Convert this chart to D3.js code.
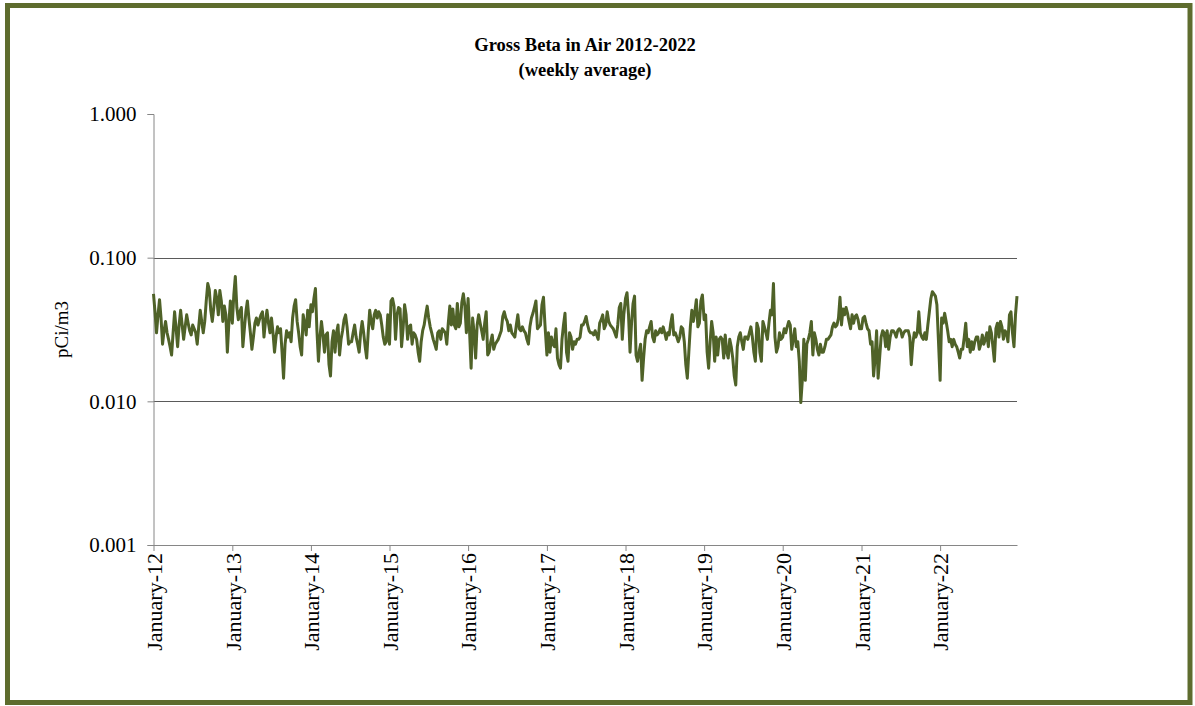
<!DOCTYPE html>
<html>
<head>
<meta charset="utf-8">
<script src="https://cdn.jsdelivr.net/npm/d3@7"></script>
<style>
  html, body { margin: 0; padding: 0; background: #fff; }
  svg { display: block; }
  text { font-family: "Liberation Serif", "Times New Roman", serif; fill: #000; }
</style>
</head>
<body>
<svg id="chart" width="1195" height="706"></svg>
<script>
// Weekly gross beta in air, pCi/m3, one array per year (52 weekly averages each)
const years = [2012, 2013, 2014, 2015, 2016, 2017, 2018, 2019, 2020, 2021, 2022];

const beta2012 = [0.056,0.042,0.030,0.040,0.051,0.038,0.025,0.031,0.036,0.030,0.027,0.024,0.021,0.030,0.042,0.032,0.024,0.034,0.043,0.034,0.027,0.033,0.040,0.035,0.031,0.029,0.034,0.032,0.030,0.025,0.033,0.043,0.036,0.030,0.036,0.050,0.066,0.060,0.043,0.036,0.045,0.059,0.052,0.040,0.059,0.050,0.036,0.046,0.040,0.022,0.035,0.050];
const beta2013 = [0.035,0.055,0.074,0.045,0.037,0.042,0.045,0.024,0.032,0.042,0.050,0.038,0.030,0.023,0.028,0.035,0.038,0.034,0.037,0.040,0.042,0.028,0.036,0.043,0.035,0.030,0.038,0.030,0.022,0.028,0.033,0.030,0.032,0.022,0.0145,0.025,0.031,0.028,0.030,0.026,0.038,0.046,0.051,0.036,0.030,0.024,0.021,0.040,0.035,0.029,0.043,0.033];
const beta2014 = [0.047,0.042,0.052,0.061,0.031,0.019,0.028,0.036,0.029,0.022,0.029,0.030,0.018,0.015,0.026,0.031,0.022,0.030,0.034,0.021,0.027,0.031,0.037,0.040,0.033,0.025,0.026,0.026,0.030,0.034,0.028,0.025,0.022,0.030,0.036,0.030,0.024,0.020,0.030,0.043,0.036,0.032,0.040,0.043,0.038,0.042,0.040,0.034,0.028,0.025,0.026,0.040];
const beta2015 = [0.025,0.050,0.052,0.046,0.027,0.040,0.045,0.044,0.024,0.032,0.047,0.040,0.027,0.033,0.034,0.025,0.030,0.029,0.027,0.022,0.019,0.026,0.031,0.034,0.040,0.046,0.038,0.033,0.030,0.027,0.025,0.023,0.030,0.031,0.027,0.032,0.031,0.030,0.025,0.035,0.046,0.034,0.044,0.034,0.032,0.048,0.033,0.035,0.049,0.056,0.046,0.030];
const beta2016 = [0.052,0.030,0.017,0.038,0.030,0.020,0.034,0.040,0.035,0.031,0.027,0.035,0.042,0.021,0.022,0.026,0.029,0.023,0.025,0.026,0.027,0.029,0.031,0.039,0.042,0.038,0.036,0.031,0.034,0.030,0.029,0.028,0.034,0.040,0.032,0.031,0.033,0.031,0.030,0.027,0.025,0.033,0.038,0.041,0.045,0.050,0.032,0.033,0.034,0.047,0.053,0.034];
const beta2017 = [0.021,0.030,0.022,0.028,0.025,0.024,0.032,0.020,0.018,0.017,0.027,0.034,0.041,0.022,0.019,0.030,0.028,0.023,0.026,0.025,0.027,0.027,0.028,0.034,0.034,0.036,0.039,0.034,0.031,0.030,0.030,0.029,0.031,0.029,0.027,0.035,0.037,0.040,0.032,0.034,0.042,0.036,0.034,0.033,0.032,0.030,0.028,0.034,0.045,0.048,0.027,0.040];
const beta2018 = [0.052,0.057,0.040,0.022,0.035,0.048,0.054,0.021,0.019,0.022,0.025,0.014,0.020,0.027,0.031,0.030,0.033,0.036,0.028,0.026,0.031,0.029,0.030,0.032,0.030,0.033,0.030,0.027,0.030,0.029,0.035,0.040,0.029,0.030,0.028,0.026,0.028,0.033,0.032,0.026,0.018,0.0145,0.022,0.033,0.043,0.036,0.042,0.051,0.033,0.035,0.050,0.055];
const beta2019 = [0.037,0.040,0.022,0.017,0.026,0.036,0.030,0.019,0.028,0.021,0.027,0.028,0.027,0.020,0.029,0.022,0.020,0.027,0.024,0.020,0.015,0.013,0.024,0.028,0.030,0.026,0.023,0.028,0.028,0.027,0.030,0.033,0.028,0.022,0.019,0.035,0.032,0.022,0.019,0.036,0.033,0.030,0.027,0.035,0.043,0.040,0.066,0.028,0.022,0.024,0.030,0.027];
const beta2020 = [0.028,0.032,0.030,0.033,0.036,0.034,0.023,0.027,0.032,0.024,0.026,0.019,0.0098,0.014,0.027,0.014,0.025,0.027,0.030,0.036,0.021,0.030,0.027,0.023,0.021,0.025,0.022,0.022,0.024,0.027,0.027,0.028,0.029,0.033,0.035,0.033,0.034,0.038,0.053,0.034,0.044,0.040,0.045,0.041,0.036,0.032,0.040,0.035,0.039,0.040,0.037,0.032];
const beta2021 = [0.032,0.038,0.039,0.035,0.032,0.031,0.025,0.026,0.015,0.020,0.031,0.0145,0.020,0.028,0.031,0.030,0.024,0.031,0.023,0.028,0.031,0.031,0.030,0.028,0.031,0.032,0.031,0.028,0.030,0.031,0.031,0.031,0.028,0.018,0.025,0.030,0.028,0.030,0.042,0.030,0.028,0.027,0.030,0.027,0.034,0.042,0.052,0.058,0.056,0.054,0.047,0.027];
const beta2022 = [0.014,0.038,0.035,0.041,0.036,0.031,0.026,0.027,0.024,0.027,0.025,0.024,0.022,0.020,0.023,0.023,0.028,0.035,0.024,0.027,0.022,0.026,0.023,0.026,0.028,0.028,0.023,0.025,0.029,0.025,0.027,0.030,0.024,0.033,0.030,0.024,0.019,0.032,0.035,0.028,0.036,0.033,0.027,0.031,0.030,0.026,0.040,0.042,0.030,0.024,0.040,0.054];

const yTickValues = [0.001, 0.01, 0.1, 1];
const gridValues = [0.01, 0.1];

const titleLines = ["Gross Beta in Air 2012-2022", "(weekly average)"];
const yLabel = "pCi/m3";

const seriesByYear = [beta2012, beta2013, beta2014, beta2015, beta2016, beta2017,
                      beta2018, beta2019, beta2020, beta2021, beta2022];

// Each weekly value is dated from the first day of its year, 7 days apart
const data = [];
years.forEach((yr, k) => {
  seriesByYear[k].forEach((v, i) => {
    data.push({ date: new Date(yr, 0, 1 + 7 * i), value: v });
  });
});

const svg = d3.select("#chart");
const W = 1195, H = 706;
const serif = '"Liberation Serif", "Times New Roman", serif';

// Olive frame around the whole chart
svg.append("rect")
  .attr("x", 7.5).attr("y", 5.5)
  .attr("width", W - 12.5).attr("height", H - 9)
  .attr("fill", "#fff")
  .attr("stroke", "#5e6c2e")
  .attr("stroke-width", 5);

const plot = { left: 153.5, right: 1017, top: 114, bottom: 545 };

const x = d3.scaleTime()
  .domain(d3.extent(data, d => d.date))
  .range([plot.left, plot.right]);

const y = d3.scaleLog()
  .domain([0.001, 1])
  .range([plot.bottom, plot.top]);

// Horizontal gridlines
svg.append("g")
  .selectAll("line")
  .data(gridValues)
  .join("line")
  .attr("x1", plot.left).attr("x2", plot.right)
  .attr("y1", d => Math.round(y(d)) + 0.5).attr("y2", d => Math.round(y(d)) + 0.5)
  .attr("stroke", "#5a5a5a")
  .attr("stroke-width", 1);

// Y axis
const yAxis = svg.append("g")
  .attr("transform", `translate(${plot.left},0)`)
  .call(d3.axisLeft(y).tickValues(yTickValues).tickFormat(d3.format(".3f")).tickSize(6).tickPadding(11));
yAxis.select(".domain").attr("stroke", "#868686");
yAxis.selectAll(".tick line").attr("stroke", "#868686");
yAxis.selectAll("text")
  .attr("font-family", serif)
  .attr("font-size", 21)
  .attr("fill", "#000");

// X axis with a tick every January
const jan = d3.timeYear.range(new Date(2012, 0, 1), new Date(2022, 11, 31));
const xAxis = svg.append("g")
  .attr("transform", `translate(0,${plot.bottom})`)
  .call(d3.axisBottom(x).tickValues(jan).tickFormat(d3.timeFormat("%B-%y")).tickSize(6).tickSizeOuter(0));
xAxis.select(".domain").attr("stroke", "#868686");
xAxis.selectAll(".tick line").attr("stroke", "#868686");
xAxis.selectAll("text")
  .attr("font-family", serif)
  .attr("font-size", 22)
  .attr("fill", "#000")
  .attr("text-anchor", "end")
  .attr("dy", "0.35em")
  .attr("transform", "translate(0,4) rotate(-90)")
  .attr("x", -4)
  .attr("y", 0);

// Weekly series line
const line = d3.line()
  .x(d => x(d.date))
  .y(d => y(d.value));

svg.append("path")
  .datum(data)
  .attr("fill", "none")
  .attr("stroke", "#4f6228")
  .attr("stroke-width", 3)
  .attr("stroke-linejoin", "round")
  .attr("d", line);

// Title
svg.append("g")
  .selectAll("text")
  .data(titleLines)
  .join("text")
  .attr("x", 585)
  .attr("y", (d, i) => 51 + i * 25)
  .attr("text-anchor", "middle")
  .attr("font-weight", "bold")
  .attr("font-size", 18.5)
  .text(d => d);

// Y axis label
svg.append("text")
  .attr("transform", `translate(68,${(plot.top + plot.bottom) / 2}) rotate(-90)`)
  .attr("text-anchor", "middle")
  .attr("font-size", 19)
  .text(yLabel);
</script>
</body>
</html>
